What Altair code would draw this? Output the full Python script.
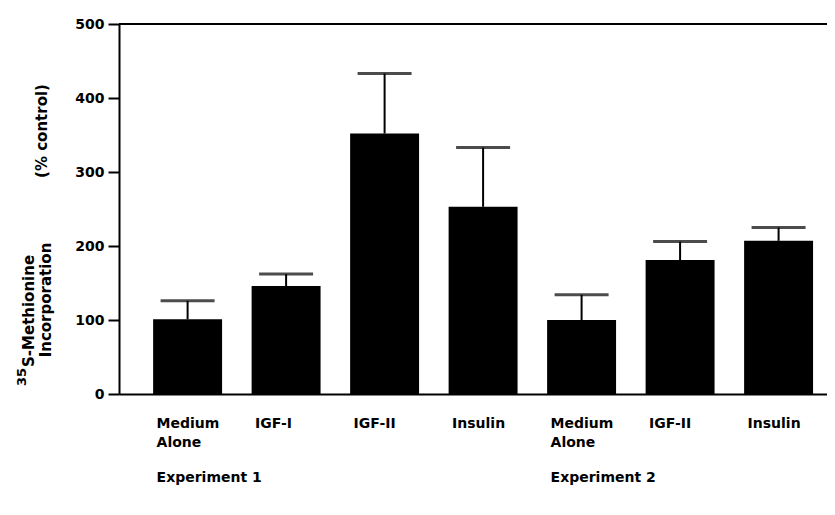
import json
import altair as alt
import pandas as pd

# ---- data ----
labels = ["Medium Alone", "IGF-I", "IGF-II", "Insulin", "Medium Alone", "IGF-II", "Insulin"]
experiments = ["Experiment 1", "Experiment 1", "Experiment 1", "Experiment 1",
               "Experiment 2", "Experiment 2", "Experiment 2"]
means = [101, 146, 352, 253, 100, 181, 207]
errors = [25, 16, 81, 80, 34, 25, 18]
y_ticks = [0, 100, 200, 300, 400, 500]
group_labels = ["Experiment 1", "Experiment 2"]
group_first_bar = [0, 4]

FONT = "DejaVu Sans"

df = pd.DataFrame({
    "idx": list(range(len(labels))),
    "label": labels,
    "exp": experiments,
    "mean": means,
    "upper": [m + e for m, e in zip(means, errors)],
})

label_arrays = [lab.split(" ") for lab in labels]
label_expr = json.dumps(label_arrays) + "[datum.value]"

x_scale = alt.Scale(paddingInner=0.3, paddingOuter=0.244, align=0.71)
y_scale = alt.Scale(domain=[0, 500], nice=False)

x_enc = alt.X(
    "idx:O", scale=x_scale, title=None,
    axis=alt.Axis(
        labelExpr=label_expr, labelAngle=0, labelAlign="left", labelOffset=-31,
        labelBaseline="top", labelPadding=22, labelFont=FONT, labelFontWeight="bold",
        labelFontSize=14, labelLineHeight=19, labelColor="black",
        ticks=False, domain=True, domainColor="black", domainWidth=2,
    ),
)
y_enc = alt.Y(
    "mean:Q", scale=y_scale, title=None,
    axis=alt.Axis(
        values=y_ticks, grid=False, tickSize=11, tickWidth=2, tickColor="black",
        domainColor="black", domainWidth=2, labelPadding=4, labelFont=FONT,
        labelFontWeight="bold", labelFontSize=14, labelColor="black",
    ),
)

base = alt.Chart(df)

bars = base.mark_bar(color="black").encode(x=x_enc, y=y_enc)
stems = base.mark_rule(color="black", strokeWidth=2).encode(
    x="idx:O", y="mean:Q", y2="upper:Q")
caps = base.mark_tick(color="black", size=54, thickness=3).encode(
    x="idx:O", y="upper:Q")

top_line = alt.Chart(pd.DataFrame({"v": [y_ticks[-1]]})).mark_rule(
    color="black", strokeWidth=2).encode(y="v:Q")

groups = alt.Chart(pd.DataFrame({"g": group_labels, "idx": group_first_bar})).mark_text(
    font=FONT, fontWeight="bold", fontSize=14, align="left", baseline="top",
    dx=-31, color="black",
).encode(x="idx:O", y=alt.value(447), text="g:N")

title_style = dict(font=FONT, fontWeight="bold", color="black", angle=270)
t_sup = alt.Chart(pd.DataFrame({"t": ["35"]})).mark_text(
    align="right", baseline="middle", fontSize=13, **title_style
).encode(x=alt.value(-97), y=alt.value(344), text="t:N")
t_line1 = alt.Chart(pd.DataFrame({"t": ["S-Methionine"]})).mark_text(
    align="left", baseline="middle", fontSize=15, **title_style
).encode(x=alt.value(-90), y=alt.value(343), text="t:N")
t_line2 = alt.Chart(pd.DataFrame({"t": ["Incorporation"]})).mark_text(
    align="center", baseline="middle", fontSize=15, **title_style
).encode(x=alt.value(-73), y=alt.value(276), text="t:N")
t_unit = alt.Chart(pd.DataFrame({"t": ["(% control)"]})).mark_text(
    align="center", baseline="middle", fontSize=15, **title_style
).encode(x=alt.value(-77), y=alt.value(107), text="t:N")

chart = alt.layer(
    bars, stems, caps, top_line, groups, t_sup, t_line1, t_line2, t_unit
).properties(
    width=708, height=370,
    autosize=alt.AutoSizeParams(type="none"),
    padding={"left": 111, "top": 16, "right": 0, "bottom": 110},
).configure_view(stroke=None).configure(background="white")

chart.save("out.html", embed_options={"renderer": "svg", "actions": False})
